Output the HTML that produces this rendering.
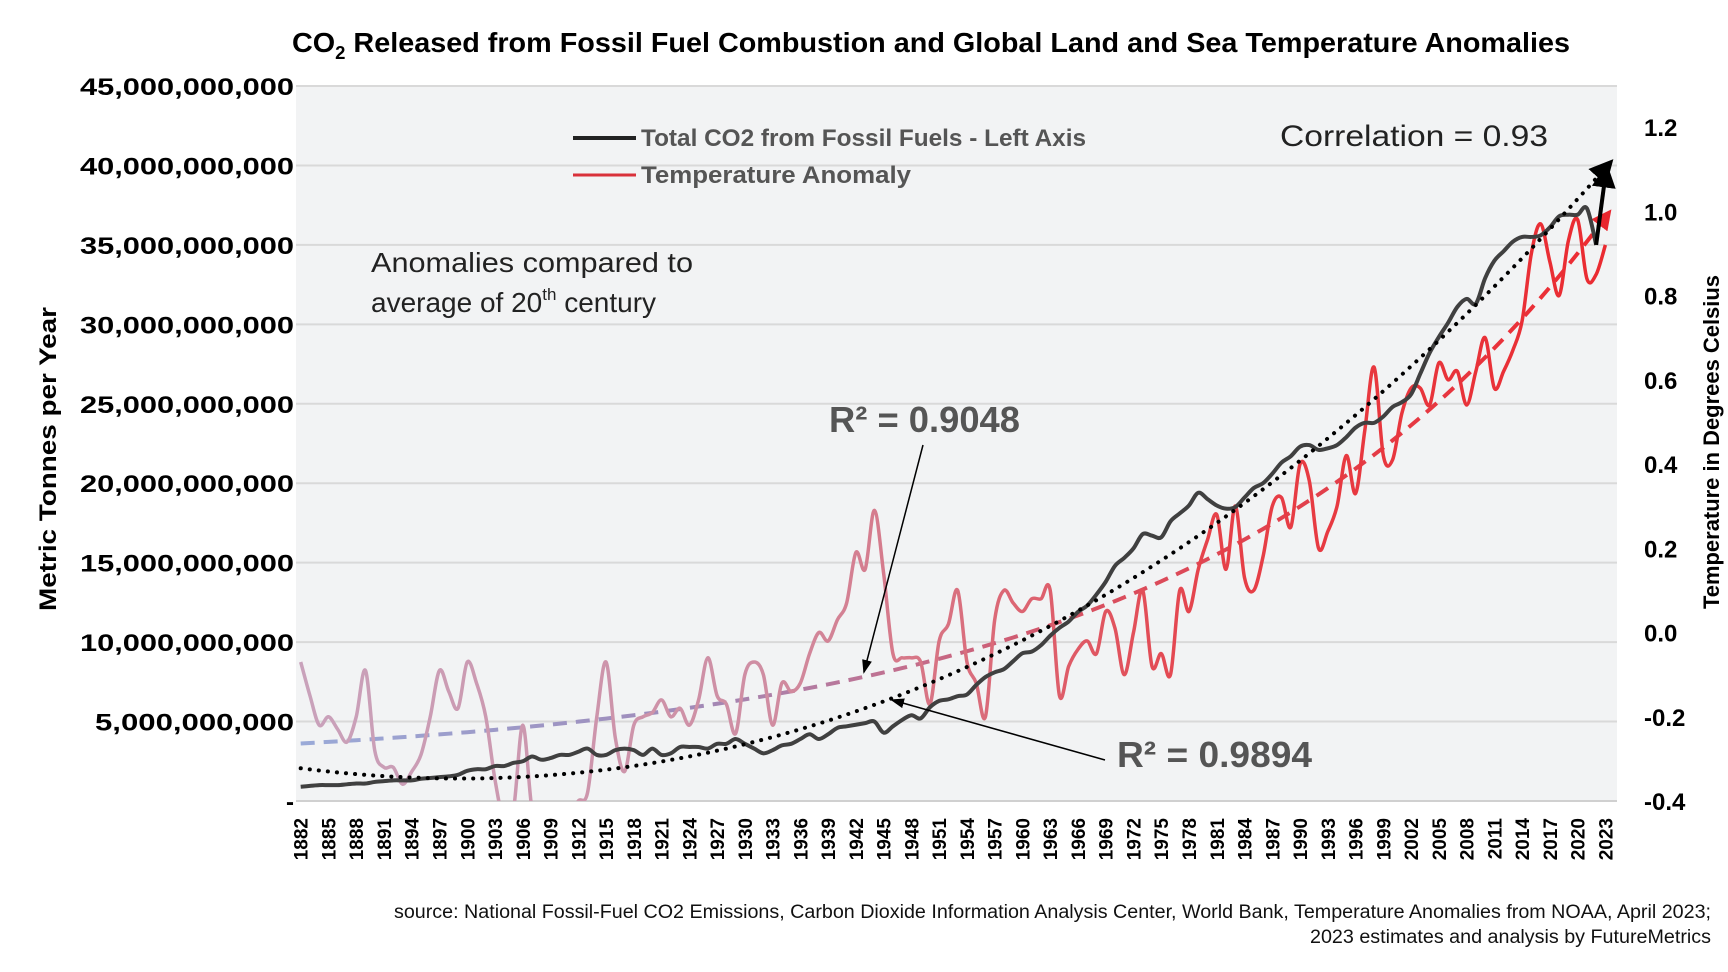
<!DOCTYPE html>
<html><head><meta charset="utf-8"><style>
html,body{margin:0;padding:0;background:#fff;}
svg{display:block;font-family:"Liberation Sans",sans-serif;}
</style></head><body>
<svg id="chart" width="1728" height="972" viewBox="0 0 1728 972" xmlns="http://www.w3.org/2000/svg">
<defs>
<linearGradient id="redGrad" gradientUnits="userSpaceOnUse" x1="296" y1="0" x2="1617" y2="0">
<stop offset="0" stop-color="#c9a2bb"/><stop offset="0.35" stop-color="#cf8ea3"/><stop offset="0.5" stop-color="#d9707f"/><stop offset="0.7" stop-color="#e64048"/><stop offset="1" stop-color="#ea2a30"/>
</linearGradient>
<linearGradient id="trendGrad" gradientUnits="userSpaceOnUse" x1="296" y1="0" x2="1617" y2="0">
<stop offset="0" stop-color="#9aaad8"/><stop offset="0.3" stop-color="#a08ab8"/><stop offset="0.45" stop-color="#c07090"/><stop offset="0.6" stop-color="#d85060"/><stop offset="1" stop-color="#ee2a30"/>
</linearGradient>
<marker id="arrBlack" markerWidth="6" markerHeight="6" refX="3" refY="3" orient="auto" markerUnits="strokeWidth"><path d="M0,0 L6,3 L0,6 z" fill="#000"/></marker>
<marker id="arrRed" markerWidth="5" markerHeight="5" refX="2.5" refY="2.5" orient="auto" markerUnits="strokeWidth"><path d="M0,0 L5,2.5 L0,5 z" fill="#e8262e"/></marker>
<marker id="arrThin" markerWidth="14" markerHeight="10" refX="12" refY="5" orient="auto" markerUnits="userSpaceOnUse"><path d="M0,0 L14,5 L0,10 z" fill="#000"/></marker>
<clipPath id="plotClip"><rect x="296" y="80" width="1330" height="721"/></clipPath>
</defs>
<rect x="296" y="86" width="1321" height="715" fill="#f2f3f4"/>
<g id="grid"></g>
<g id="leftTicks"></g>
<g id="rightTicks"></g>
<g id="xTicks"></g>
<g id="series"></g>

<text x="931" y="52" text-anchor="middle" font-size="28" font-weight="bold" fill="#000" textLength="1278" lengthAdjust="spacingAndGlyphs">CO<tspan font-size="18" dy="7">2</tspan><tspan dy="-7"> Released from Fossil Fuel Combustion and Global Land and Sea Temperature Anomalies</tspan></text>

<text transform="translate(56,459) rotate(-90)" text-anchor="middle" font-size="24" font-weight="bold" textLength="304" lengthAdjust="spacingAndGlyphs">Metric Tonnes per Year</text>
<text transform="translate(1719,442) rotate(-90)" text-anchor="middle" font-size="22" font-weight="bold" textLength="334" lengthAdjust="spacingAndGlyphs">Temperature in Degrees Celsius</text>

<g>
<line x1="573" y1="138" x2="636" y2="138" stroke="#222" stroke-width="4"/>
<text x="641" y="146" font-size="24" font-weight="bold" fill="#555" textLength="445" lengthAdjust="spacingAndGlyphs">Total CO2 from Fossil Fuels - Left Axis</text>
<line x1="573" y1="175" x2="636" y2="175" stroke="#d9313a" stroke-width="3"/>
<text x="641" y="183" font-size="24" font-weight="bold" fill="#555" textLength="270" lengthAdjust="spacingAndGlyphs">Temperature Anomaly</text>
</g>
<text x="1280" y="146" font-size="30" fill="#222" textLength="268" lengthAdjust="spacingAndGlyphs">Correlation = 0.93</text>
<text x="371" y="272" font-size="28" fill="#222" textLength="322" lengthAdjust="spacingAndGlyphs">Anomalies compared to</text>
<text x="371" y="312" font-size="28" fill="#222">average of 20<tspan font-size="17" dy="-12">th</tspan><tspan dy="12"> century</tspan></text>

<text x="829" y="432" font-size="36" font-weight="bold" fill="#555" textLength="191" lengthAdjust="spacingAndGlyphs">R² = 0.9048</text>
<line x1="923" y1="445" x2="864" y2="672" stroke="#000" stroke-width="1.5" marker-end="url(#arrThin)"/>
<text x="1117" y="767" font-size="36" font-weight="bold" fill="#555" textLength="195" lengthAdjust="spacingAndGlyphs">R² = 0.9894</text>
<line x1="1105" y1="760" x2="892" y2="700" stroke="#000" stroke-width="1.5" marker-end="url(#arrThin)"/>

<text x="1711" y="918" text-anchor="end" font-size="19" fill="#111" textLength="1317" lengthAdjust="spacingAndGlyphs">source: National Fossil-Fuel CO2 Emissions, Carbon Dioxide Information Analysis Center, World Bank, Temperature Anomalies from NOAA, April 2023;</text>
<text x="1711" y="943" text-anchor="end" font-size="19" fill="#111" textLength="401" lengthAdjust="spacingAndGlyphs">2023 estimates and analysis by FutureMetrics</text>
</svg>
<script>
const startYear = 1882;
const co2Billions = [
0.9,0.95,1.0,1.0,1.0,1.05,1.1,1.1,1.2,1.25,1.3,1.3,1.3,1.4,1.45,1.5,1.55,1.65,
1.9,2.0,2.0,2.2,2.2,2.4,2.5,2.8,2.6,2.7,2.9,2.9,3.1,3.3,2.9,2.9,3.2,3.3,3.2,2.9,
3.3,2.9,3.0,3.4,3.4,3.4,3.3,3.6,3.6,3.9,3.6,3.3,3.0,3.2,3.5,3.6,3.9,4.2,3.9,4.2,
4.6,4.7,4.8,4.9,5.0,4.3,4.7,5.1,5.4,5.2,5.9,6.3,6.4,6.6,6.7,7.3,7.8,8.1,8.3,8.8,
9.3,9.4,9.8,10.4,10.9,11.3,11.9,12.3,13.0,13.8,14.8,15.3,15.9,16.8,16.7,16.6,17.6,18.1,18.6,19.4,
19.0,18.6,18.4,18.5,19.1,19.7,20.0,20.6,21.3,21.7,22.3,22.4,22.1,22.2,22.4,22.9,23.5,23.8,23.8,24.2,
24.8,25.1,25.6,26.9,28.2,29.2,30.1,31.1,31.6,31.3,32.9,34.0,34.6,35.2,35.5,35.5,35.6,36.1,36.8,36.9,
36.9,37.3,35.0,40.0];
const tempAnomaly = [
-0.07,-0.15,-0.22,-0.20,-0.23,-0.26,-0.20,-0.09,-0.28,-0.32,-0.32,-0.36,-0.33,-0.29,-0.20,-0.09,-0.14,-0.18,
-0.07,-0.12,-0.20,-0.35,-0.45,-0.42,-0.22,-0.42,-0.45,-0.50,-0.45,-0.44,-0.40,-0.38,-0.20,-0.07,-0.25,-0.33,-0.22,-0.20,
-0.19,-0.16,-0.20,-0.18,-0.22,-0.16,-0.06,-0.15,-0.17,-0.24,-0.10,-0.07,-0.10,-0.22,-0.12,-0.14,-0.12,-0.05,0.00,-0.02,
0.03,0.07,0.19,0.15,0.29,0.14,-0.05,-0.06,-0.06,-0.07,-0.17,-0.02,0.02,0.10,-0.07,-0.12,-0.20,0.03,0.10,0.07,
0.05,0.08,0.08,0.10,-0.15,-0.08,-0.04,-0.02,-0.05,0.05,0.01,-0.10,0.00,0.10,-0.08,-0.05,-0.10,0.10,0.05,0.15,
0.22,0.28,0.15,0.30,0.13,0.10,0.18,0.30,0.32,0.25,0.40,0.36,0.20,0.24,0.30,0.42,0.33,0.48,0.63,0.42,
0.41,0.52,0.58,0.58,0.54,0.64,0.60,0.62,0.54,0.62,0.70,0.58,0.62,0.67,0.74,0.90,0.97,0.88,0.80,0.93,
0.98,0.84,0.85,0.92];
const leftTickValues = [0,5,10,15,20,25,30,35,40,45];
const rightTickValues = [-0.4,-0.2,0.0,0.2,0.4,0.6,0.8,1.0,1.2];

const NS = "http://www.w3.org/2000/svg";
const X0 = 300.7, X1 = 1605.4, YB = 801, YT = 86;
const nYears = co2Billions.length;
function xScale(i){ return X0 + i*(X1-X0)/141; }
function yLeft(v){ return YB - v*(YB-YT)/45; }
function yRight(t){ return 801 - (t+0.4)*(801-127)/1.6; }
function mk(tag, attrs, parent){ const e=document.createElementNS(NS,tag); for(const k in attrs) e.setAttribute(k,attrs[k]); parent.appendChild(e); return e; }

const grid=document.getElementById('grid'), lt=document.getElementById('leftTicks'), rt=document.getElementById('rightTicks'), xt=document.getElementById('xTicks'), ser=document.getElementById('series');
leftTickValues.forEach(v=>{
  const y=yLeft(v);
  if(v>0){ const g=mk('line',{x1:296,x2:1617,y1:y,y2:y,stroke:'#d9d9d9','stroke-width':2},grid);
    
     }
  const label = v===0 ? '-' : (v*1e9).toLocaleString('en-US');
  const attrs = {x:294,y:y+9,'text-anchor':'end','font-size':24,'font-weight':'bold'};
  if(v>0){ attrs.textLength = Math.round(label.length*15.3); attrs.lengthAdjust='spacingAndGlyphs'; }
  const t=mk('text',attrs,lt);
  t.textContent = label;
  
  
});
mk('line',{x1:296,x2:1617,y1:801,y2:801,stroke:'#d0d0d0','stroke-width':2},grid);
rightTickValues.forEach(v=>{
  const t=mk('text',{x:1644,y:yRight(v)+9,'font-size':24,'font-weight':'bold'},rt);
  t.textContent = v.toFixed(1);
  
  
});
for(let i=0;i<nYears;i+=3){
  const x=xScale(i);
  const t=mk('text',{transform:'translate('+(x+7)+',818) rotate(-90)','text-anchor':'end','font-size':19,'font-weight':'bold'},xt);
  t.textContent = String(startYear+i);
  
  
}

function smoothPath(pts){
  let d='M'+pts[0][0]+','+pts[0][1];
  for(let i=0;i<pts.length-1;i++){
    const p0=pts[i-1]||pts[i], p1=pts[i], p2=pts[i+1], p3=pts[i+2]||p2;
    const c1=[p1[0]+(p2[0]-p0[0])/6, p1[1]+(p2[1]-p0[1])/6];
    const c2=[p2[0]-(p3[0]-p1[0])/6, p2[1]-(p3[1]-p1[1])/6];
    d+=' C'+c1[0]+','+c1[1]+' '+c2[0]+','+c2[1]+' '+p2[0]+','+p2[1];
  }
  return d;
}
function polyfit(xs, ys, deg){
  const n=deg+1, A=[], b=[];
  for(let r=0;r<n;r++){ A.push(new Array(n).fill(0)); b.push(0); }
  xs.forEach((x,k)=>{ for(let r=0;r<n;r++){ b[r]+=ys[k]*Math.pow(x,r); for(let c=0;c<n;c++) A[r][c]+=Math.pow(x,r+c);} });
  for(let i=0;i<n;i++){
    let p=i;
    for(let r=i+1;r<n;r++){ if(Math.abs(A[r][i])>Math.abs(A[p][i])) p=r; }
    const tmpA=A[i]; A[i]=A[p]; A[p]=tmpA;
    const tmpB=b[i]; b[i]=b[p]; b[p]=tmpB;
    for(let r=i+1;r<n;r++){ const f=A[r][i]/A[i][i]; for(let c=i;c<n;c++) A[r][c]-=f*A[i][c]; b[r]-=f*b[i]; }
  }
  const co=new Array(n).fill(0);
  for(let i=n-1;i>=0;i--){ let s=b[i]; for(let c=i+1;c<n;c++) s-=A[i][c]*co[c]; co[i]=s/A[i][i]; }
  return x=>co.reduce((s,c,k)=>s+c*Math.pow(x,k),0);
}
const idx = co2Billions.map((_,i)=>i/141);

// temperature trend: least-squares fit of a + b*exp(c*u), grid search on c
function expFit(xs, ys){
  let best=null;
  for(let c=0.3;c<=6;c+=0.05){
    const zs = xs.map(x=>Math.exp(c*x));
    const lin = polyfit(zs, ys, 1);
    let sse=0; zs.forEach((z,k)=>{ const e=lin(z)-ys[k]; sse+=e*e; });
    if(!best || sse<best.sse) best={sse, c, lin};
  }
  return x=>best.lin(Math.exp(best.c*x));
}
const tf = expFit(idx, tempAnomaly);
const tPts = idx.map((u,i)=>[xScale(i), yRight(tf(u))]);
const tTrend = mk('path',{d:'M'+tPts.map(p=>p.join(',')).join(' L'),fill:'none',stroke:'url(#trendGrad)','stroke-width':4,'stroke-dasharray':'14 9','marker-end':'url(#arrRed)'},ser);



const redPts = tempAnomaly.map((t,i)=>[xScale(i), yRight(t)]);
const red = mk('path',{d:smoothPath(redPts),fill:'none',stroke:'url(#redGrad)','stroke-width':3.5,'clip-path':'url(#plotClip)'},ser);



const co2Pts = co2Billions.slice(0,nYears-1).map((v,i)=>[xScale(i), yLeft(v)]);
const blk = mk('path',{d:smoothPath(co2Pts),fill:'none',stroke:'#404040','stroke-width':4},ser);


const last = mk('line',{x1:xScale(nYears-2),y1:yLeft(co2Billions[nYears-2]),x2:xScale(nYears-1),y2:yLeft(co2Billions[nYears-1])+10,stroke:'#000','stroke-width':4,'marker-end':'url(#arrBlack)'},ser);



const cf = polyfit(idx, co2Billions, 3);
const cPts = idx.map((u,i)=>[xScale(i), yLeft(cf(u))]);
const cTrend = mk('path',{d:'M'+cPts.map(p=>p.join(',')).join(' L'),fill:'none',stroke:'#000','stroke-width':4,'stroke-dasharray':'0.1 9','stroke-linecap':'round','marker-end':'url(#arrBlack)'},ser);


</script>
</body></html>
